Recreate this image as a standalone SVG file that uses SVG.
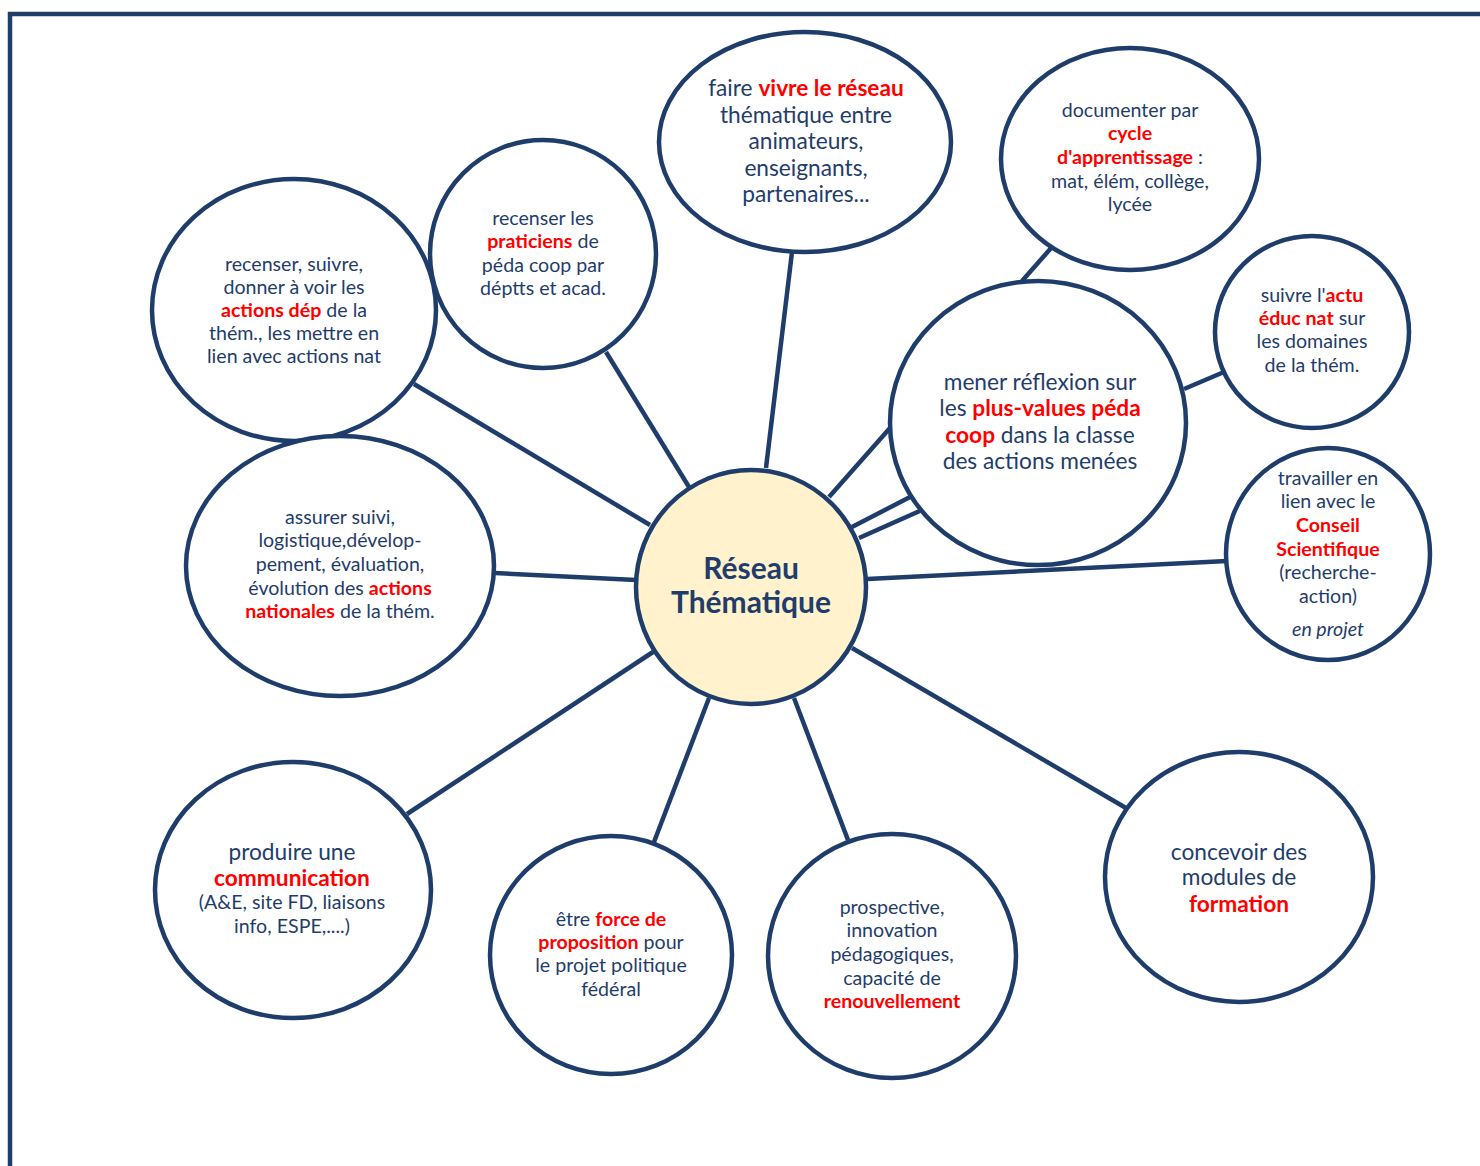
<svg xmlns="http://www.w3.org/2000/svg" width="1480" height="1166" viewBox="0 0 1480 1166">
<style>
.b{fill:#fff;stroke:#1f3d6b;stroke-width:4.5}
.c{fill:#fff2cc;stroke:#1f3d6b;stroke-width:4.5}
.l{stroke:#1f3d6b;stroke-width:4.5;fill:none}
text{font-family:Lato,"Open Sans","Liberation Sans",sans-serif;fill:#1f3d6b;text-anchor:middle}
.s{font-size:19.6px}
.m{font-size:22.7px}
.r{fill:#ff0000;font-weight:bold}
.t{font-size:30px;font-weight:bold}
</style>
<rect x="0" y="0" width="1480" height="1166" fill="#fff"/>
<path class="l" d="M10,1166 V14 H1480"/>
<g id="connectors">
<line class="l" x1="650" y1="525" x2="414" y2="384"/>
<line class="l" x1="689" y1="487" x2="606" y2="352"/>
<line class="l" x1="766" y1="468" x2="792" y2="252"/>
<line class="l" x1="829" y1="497" x2="890" y2="428"/>
<line class="l" x1="852" y1="527" x2="912" y2="496"/>
<line class="l" x1="859" y1="538" x2="922" y2="510"/>
<line class="l" x1="1022" y1="281" x2="1052" y2="247"/>
<line class="l" x1="1184" y1="389" x2="1224" y2="372"/>
<line class="l" x1="867" y1="579" x2="1227" y2="561"/>
<line class="l" x1="636" y1="580" x2="495" y2="573"/>
<line class="l" x1="653" y1="652" x2="407" y2="814"/>
<line class="l" x1="709" y1="698" x2="654" y2="842"/>
<line class="l" x1="794" y1="698" x2="848" y2="840"/>
<line class="l" x1="852" y1="648" x2="1126" y2="808"/>
</g>
<g id="n1"><ellipse class="b" cx="294" cy="310" rx="142" ry="131"/>
<text class="s" x="294" y="271">recenser, suivre,</text>
<text class="s" x="294" y="294">donner à voir les</text>
<text class="s" x="294" y="317"><tspan class="r">actions dép</tspan>  de la</text>
<text class="s" x="294" y="340">thém., les mettre en</text>
<text class="s" x="294" y="363">lien avec actions nat</text></g>
<g id="n2"><ellipse class="b" cx="543" cy="254" rx="113" ry="114"/>
<text class="s" x="543" y="225">recenser les</text>
<text class="s" x="543" y="248"><tspan class="r">praticiens</tspan> de</text>
<text class="s" x="543" y="272">péda coop par</text>
<text class="s" x="543" y="295">déptts et acad.</text></g>
<g id="n3"><ellipse class="b" cx="805" cy="142" rx="146" ry="110"/>
<text class="m" x="806" y="96">faire <tspan class="r">vivre le réseau</tspan></text>
<text class="m" x="806" y="123">thématique entre</text>
<text class="m" x="806" y="149">animateurs,</text>
<text class="m" x="806" y="176">enseignants,</text>
<text class="m" x="806" y="202">partenaires...</text></g>
<g id="n4"><ellipse class="b" cx="1130" cy="159" rx="129" ry="111"/>
<text class="s" x="1130" y="117">documenter par</text>
<text class="s r" x="1130" y="140">cycle</text>
<text class="s" x="1130" y="164"><tspan class="r">d'apprentissage</tspan> :</text>
<text class="s" x="1130" y="188">mat, élém, collège,</text>
<text class="s" x="1130" y="211">lycée</text></g>
<g id="n5"><ellipse class="b" cx="1038" cy="423" rx="148" ry="142"/>
<text class="m" x="1040" y="390">mener réflexion sur</text>
<text class="m" x="1040" y="416">les <tspan class="r">plus-values péda</tspan></text>
<text class="m" x="1040" y="443"><tspan class="r">coop</tspan> dans la classe</text>
<text class="m" x="1040" y="469">des actions menées</text></g>
<g id="n6"><ellipse class="b" cx="1312" cy="332" rx="97" ry="96"/>
<text class="s" x="1312" y="302">suivre  l'<tspan class="r">actu</tspan></text>
<text class="s" x="1312" y="325"><tspan class="r">éduc nat</tspan> sur</text>
<text class="s" x="1312" y="348">les domaines</text>
<text class="s" x="1312" y="372">de la thém.</text></g>
<g id="n7"><ellipse class="b" cx="1328" cy="554" rx="102" ry="106"/>
<text class="s" x="1328" y="485">travailler en</text>
<text class="s" x="1328" y="508">lien avec le</text>
<text class="s r" x="1328" y="532">Conseil</text>
<text class="s r" x="1328" y="556">Scientifique</text>
<text class="s" x="1328" y="579">(recherche-</text>
<text class="s" x="1328" y="603">action)</text>
<text class="s" x="1328" y="636" font-style="italic">en projet</text></g>
<g id="n8"><ellipse class="b" cx="340" cy="566" rx="154" ry="130"/>
<text class="s" x="340" y="524">assurer suivi,</text>
<text class="s" x="340" y="547">logistique,dévelop-</text>
<text class="s" x="340" y="571">pement, évaluation,</text>
<text class="s" x="340" y="595">évolution des <tspan class="r">actions</tspan></text>
<text class="s" x="340" y="618"><tspan class="r">nationales</tspan> de la thém.</text></g>
<g id="center"><ellipse class="c" cx="751" cy="587" rx="115" ry="117"/>
<text class="t" x="751" y="579">Réseau</text>
<text class="t" x="751" y="613">Thématique</text></g>
<g id="n9"><ellipse class="b" cx="293" cy="890" rx="138" ry="128"/>
<text class="m" x="292" y="860">produire une</text>
<text class="m r" x="292" y="886">communication</text>
<text class="s" x="292" y="909">(A&amp;E, site FD, liaisons</text>
<text class="s" x="292" y="933">info, ESPE,....)</text></g>
<g id="n10"><ellipse class="b" cx="611" cy="955" rx="121" ry="119"/>
<text class="s" x="611" y="926">être <tspan class="r">force de</tspan></text>
<text class="s" x="611" y="949"><tspan class="r">proposition</tspan> pour</text>
<text class="s" x="611" y="972">le projet politique</text>
<text class="s" x="611" y="996">fédéral</text></g>
<g id="n11"><ellipse class="b" cx="892" cy="956" rx="124" ry="122"/>
<text class="s" x="892" y="914">prospective,</text>
<text class="s" x="892" y="937">innovation</text>
<text class="s" x="892" y="961">pédagogiques,</text>
<text class="s" x="892" y="985">capacité de</text>
<text class="s r" x="892" y="1008">renouvellement</text></g>
<g id="n12"><ellipse class="b" cx="1239" cy="877" rx="134" ry="125"/>
<text class="m" x="1239" y="860">concevoir des</text>
<text class="m" x="1239" y="885">modules de</text>
<text class="m r" x="1239" y="912">formation</text></g>
</svg>
